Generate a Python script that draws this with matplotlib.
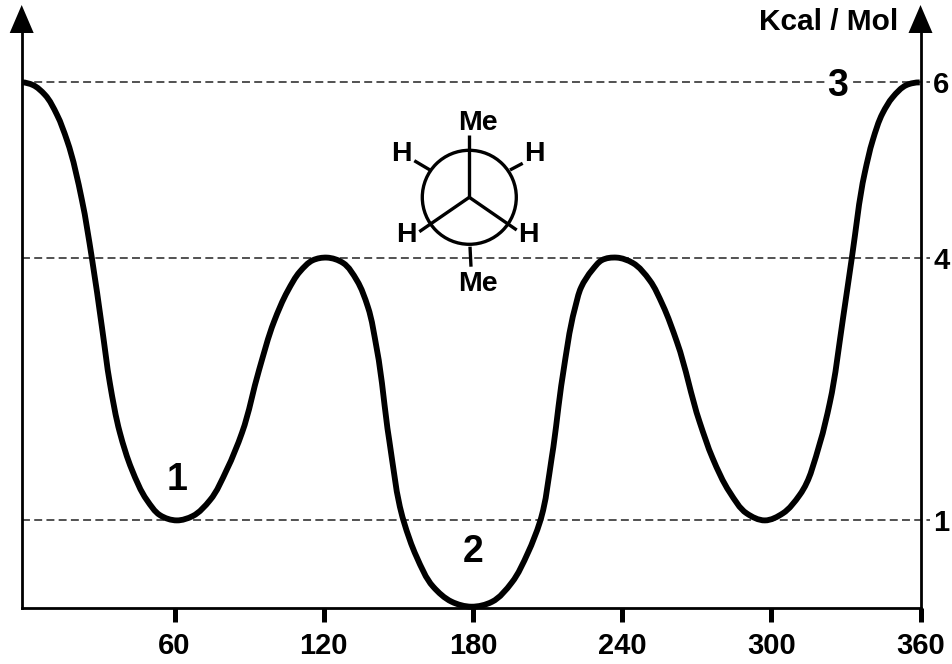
import numpy as np
import matplotlib
matplotlib.use('Agg')
from matplotlib import pyplot as plt
from matplotlib.patches import Circle, PathPatch, Polygon
from matplotlib.path import Path

W, H = 952, 664

angle = [-1.4, 3.0, 7.8, 12.7, 16.7, 22.7, 26.7, 30.8, 34.0, 38.0, 42.8, 48.9, 54.1,
         60.9, 67.3, 74.2, 81.0, 87.1, 94.0, 100.0, 105.5, 110.4, 115.6, 121.2, 127.7, 133.3, 137.7,
         141.3, 146.3, 152.2, 157.3, 164.0, 171.4, 179.4, 187.6, 195.6, 202.1, 206.9,
         211.7, 216.1, 221.0, 223.5, 228.0, 231.8, 237.8, 244.2, 251.1, 256.3, 262.0,
         271.2, 276.4, 283.3, 290.1, 297.4, 304.6, 311.4, 319.5, 323.5, 328.8,
         332.4, 337.6, 340.8, 344.8, 348.8, 354.4, 359.7]
energy = [6.0, 5.97, 5.86, 5.63, 5.34, 4.66, 4.0, 3.2, 2.56, 2.0, 1.58, 1.23, 1.06,
          1.0, 1.05, 1.23, 1.58, 2.0, 2.72, 3.27, 3.62, 3.84, 3.97, 4.0, 3.94, 3.74, 3.44,
          2.96, 1.92, 0.985, 0.586, 0.243, 0.072, 0.015, 0.07, 0.29, 0.63, 0.98,
          1.72, 2.65, 3.42, 3.66, 3.86, 3.97, 4.0, 3.94, 3.74, 3.46, 3.04,
          2.12, 1.71, 1.32, 1.08, 1.0, 1.08, 1.29, 1.88, 2.34, 3.3,
          4.0, 4.97, 5.34, 5.65, 5.83, 5.97, 6.0]
x_ticks = [60, 120, 180, 240, 300, 360]
y_ticks = [1, 4, 6]
wells = ['1', '2', '3']
well_angle = [61, 180, 326.5]
well_energy = [1.46, 0.64, 5.96]


def px(x, y):
    return x / W, 1 - y / H


def fig_text(x, y, s, size=20.5):
    fig.text(*px(x, y), s, fontsize=size, fontweight='bold', ha='center', va='center')


def fig_line(x0, y0, x1, y1, lw=2.4):
    fig.add_artist(plt.Line2D(*zip(px(x0, y0), px(x1, y1)), color='black', lw=lw,
                              solid_capstyle='butt'))


plt.rcParams['font.family'] = ['Liberation Sans', 'DejaVu Sans']

fig = plt.figure(figsize=(W / 100, H / 100), dpi=100)
ax = fig.add_axes([21.7 / W, (H - 608) / H, (920.5 - 21.7) / W, (608 - 5) / H])
ax.set_xlim(-1.5, 360)
ax.set_ylim(0, 603 / 87.6)

for spine in ['left', 'right', 'bottom']:
    ax.spines[spine].set_linewidth(2.0)
ax.spines['top'].set_visible(False)
ax.spines['left'].set_bounds(0, 6.6)
ax.spines['right'].set_bounds(0, 6.6)

ax.set_xticks(x_ticks)
ax.set_xticklabels(x_ticks, fontsize=21, fontweight='bold')
ax.tick_params(axis='x', length=10, width=3.6, pad=7)
ax.yaxis.tick_right()
ax.set_yticks(y_ticks)
ax.set_yticklabels(y_ticks, fontsize=21, fontweight='bold', ha='left')
ax.tick_params(axis='y', length=0, pad=9)

# dashed guide lines run a little past the right axis
for e in y_ticks:
    ax.plot([-1.5, 363.7], [e, e], color='#222222', lw=1.1, linestyle=(0, (5.2, 2.8)),
            clip_on=False, zorder=1)

# bezier segments through the read points, tangents taken in screen proportions
scale = np.array([2.487, 87.6])
pts = np.column_stack([angle, energy]) * scale
seg = np.diff(pts, axis=0)
chord = np.hypot(seg[:, 0], seg[:, 1])
unit = seg / chord[:, None]
tang = np.zeros_like(pts)
tang[1:-1] = unit[:-1] * chord[1:, None] + unit[1:] * chord[:-1, None]
tang[0] = tang[-1] = [1, 0]
tang /= np.hypot(tang[:, 0], tang[:, 1])[:, None]
verts = [pts[0]]
codes = [Path.MOVETO]
for i in range(len(pts) - 1):
    verts += [pts[i] + tang[i] * chord[i] / 3, pts[i + 1] - tang[i + 1] * chord[i] / 3, pts[i + 1]]
    codes += [Path.CURVE4] * 3
ax.add_patch(PathPatch(Path(np.array(verts) / scale, codes), fill=False, edgecolor='black', lw=4.2,
                       capstyle='butt', joinstyle='round', zorder=3, clip_on=False))

for s, a, e in zip(wells, well_angle, well_energy):
    bbox = dict(facecolor='white', edgecolor='none', pad=1) if s == '3' else None
    ax.text(a, e, s, fontsize=27, fontweight='bold', ha='center', va='center', zorder=4, bbox=bbox)

# arrow heads on both axes
for cx in [21.7, 920.5]:
    fig.add_artist(Polygon([px(cx - 12, 33), px(cx + 12, 33), px(cx, 5)], closed=True,
                           facecolor='black', edgecolor='none', transform=fig.transFigure))

fig.text(*px(898, 22), 'Kcal / Mol', fontsize=21.5, fontweight='bold', ha='right', va='center')

# Newman projection
cx, cy = 469.3, 197.3
fig.add_artist(Circle((cx, H - cy), 47, fill=False, edgecolor='black', lw=2.4,
                      transform=None))
fig_line(cx, cy, cx, 135)
fig_line(cx, cy, 419.3, 231.7)
fig_line(cx, cy, 516.7, 230)
fig_line(430, 170, 414.3, 160.7)
fig_line(510, 170, 522.7, 163.3)
fig_line(470, 246.7, 471, 266.7)
fig_text(477.7, 123.3, 'Me')
fig_text(401, 154, 'H')
fig_text(534.3, 154, 'H')
fig_text(406.7, 235, 'H')
fig_text(528.3, 235, 'H')
fig_text(478.3, 284, 'Me')

fig.savefig('out.png', dpi=100)
